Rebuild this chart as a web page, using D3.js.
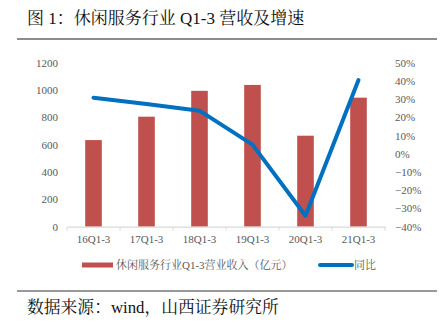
<!DOCTYPE html>
<html><head><meta charset="utf-8">
<script src="https://cdn.jsdelivr.net/npm/d3@7"></script>
<style>body{margin:0;background:#fff}svg{display:block}</style>
</head><body><svg id="c" width="444" height="324"></svg>
<script>
const categories = ["16Q1-3","17Q1-3","18Q1-3","19Q1-3","20Q1-3","21Q1-3"];
const revenue = [633, 804, 993, 1036, 665, 943];
const growth = [30.7, 27.3, 23.6, 5.0, -34.0, 40.4];
const leftTicks = [0,200,400,600,800,1000,1200];
const rightTicks = [-40,-30,-20,-10,0,10,20,30,40,50];
const title = "图 1：休闲服务行业 Q1-3 营收及增速";
const source = "数据来源：wind，山西证券研究所";
const legendBar = "休闲服务行业Q1-3营业收入（亿元）";
const legendLine = "同比";

const svg = d3.select("#c");
const L = 67, R = 385, T = 62.5, B = 226.7;
const serif = "'Liberation Serif','Noto Serif CJK SC','Noto Sans CJK SC',serif";

// title
svg.append("text").attr("x",27).attr("y",24).attr("font-family",serif).attr("font-size",17).attr("fill","#111").text(title);
svg.append("line").attr("x1",17).attr("x2",437).attr("y1",39).attr("y2",39).attr("stroke","#8c8c8c").attr("stroke-width",2);
svg.append("line").attr("x1",17).attr("x2",437).attr("y1",291).attr("y2",291).attr("stroke","#333").attr("stroke-width",1);
svg.append("text").attr("x",27).attr("y",313).attr("font-family",serif).attr("font-size",16.8).attr("fill","#111").text(source);

const x = d3.scaleBand().domain(categories).range([L,R]);
const y = d3.scaleLinear().domain([0,1200]).range([B,T]);
const y2 = d3.scaleLinear().domain([-40,50]).range([B,T]);

// bars
svg.append("g").selectAll("rect").data(revenue).join("rect")
  .attr("x",(d,i)=>x(categories[i])+x.bandwidth()/2-8.3)
  .attr("width",16.6)
  .attr("y",d=>y(d)).attr("height",d=>B-y(d))
  .attr("fill","#C0504D");

// x axis
const xa = svg.append("g").attr("transform",`translate(0,${B})`)
  .call(d3.axisBottom(x).tickSize(0).tickPadding(9));
xa.select(".domain").attr("stroke","#d9d9d9").attr("stroke-width",1.3);
xa.selectAll("text").attr("font-family",serif).attr("font-size",11).attr("fill","#595959");
const bounds = categories.map(c=>x(c)).concat([R]);
svg.append("g").selectAll("line").data(bounds).join("line")
  .attr("x1",d=>d).attr("x2",d=>d).attr("y1",B).attr("y2",B+4)
  .attr("stroke","#d9d9d9").attr("stroke-width",1);

// left axis labels
const la = svg.append("g").attr("transform",`translate(${L},0)`)
  .call(d3.axisLeft(y).tickValues(leftTicks).tickSize(0).tickPadding(9).tickFormat(d3.format("d")));
la.select(".domain").remove();
la.selectAll("text").attr("font-family",serif).attr("font-size",11).attr("fill","#595959");

// right axis labels
const ra = svg.append("g").attr("transform",`translate(${R},0)`)
  .call(d3.axisRight(y2).tickValues(rightTicks).tickSize(0).tickPadding(10).tickFormat(d=>(d<0?"−":"")+Math.abs(d)+"%"));
ra.select(".domain").remove();
ra.selectAll("text").attr("font-family",serif).attr("font-size",11).attr("fill","#595959");

// line
const line = d3.line().x((d,i)=>x(categories[i])+x.bandwidth()/2).y(d=>y2(d));
svg.append("path").datum(growth).attr("d",line).attr("fill","none")
  .attr("stroke","#0070C0").attr("stroke-width",4).attr("stroke-linejoin","round").attr("stroke-linecap","round");

// legend
const ly = 265;
svg.append("rect").attr("x",82).attr("y",ly-2.5).attr("width",31).attr("height",5).attr("fill","#C0504D");
svg.append("text").attr("x",116).attr("y",ly+4).attr("font-family",serif).attr("font-size",11).attr("fill","#595959").text(legendBar);
svg.append("line").attr("x1",320).attr("x2",352).attr("y1",ly).attr("y2",ly).attr("stroke","#0070C0").attr("stroke-width",4).attr("stroke-linecap","round");
svg.append("text").attr("x",354).attr("y",ly+4).attr("font-family",serif).attr("font-size",11).attr("fill","#595959").text(legendLine);
</script></body></html>
